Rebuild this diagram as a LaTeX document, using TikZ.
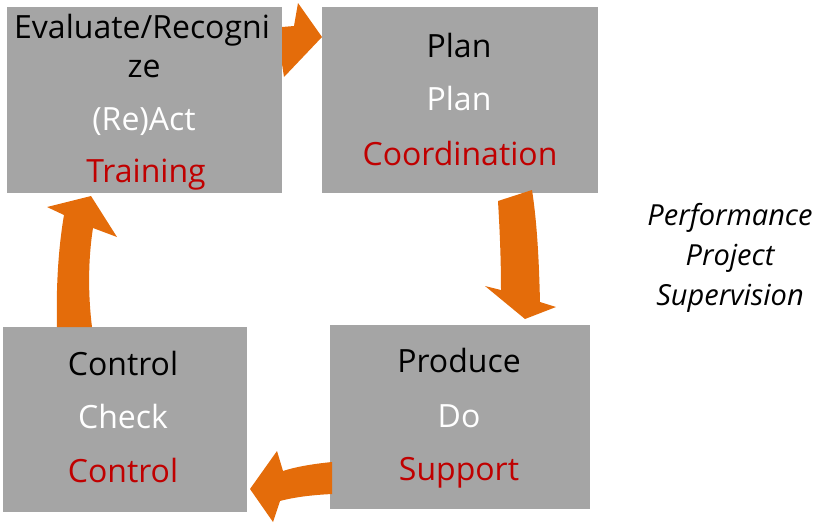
\documentclass[tikz,border=0pt]{standalone}
\usepackage{fontspec}
\setmainfont{Open Sans}
\definecolor{boxgray}{RGB}{165,165,165}
\definecolor{arroworange}{RGB}{228,108,10}
\definecolor{txtred}{RGB}{192,0,0}
\begin{document}
\begin{tikzpicture}[x=1pt,y=-1pt,
  box/.style={fill=boxgray,draw=none,inner sep=0,anchor=north west},
  txt/.style={anchor=base,inner sep=0,font=\fontsize{32}{38}\selectfont},
  lblack/.style={txt,text=black},
  lwhite/.style={txt,text=white},
  lred/.style={txt,text=txtred},
  note/.style={anchor=base,inner sep=0,font=\fontsize{29}{34}\selectfont\itshape,text=black},
  arr/.style={fill=arroworange,draw=none}]
\useasboundingbox (0,0) rectangle (815,525);
% boxes
\node[box,minimum width=275pt,minimum height=186pt] (b1) at (7,7) {};
\node[box,minimum width=276pt,minimum height=186pt] (b2) at (322,7) {};
\node[box,minimum width=244pt,minimum height=185pt] (b3) at (3,327) {};
\node[box,minimum width=260pt,minimum height=184pt] (b4) at (330,325) {};
% texts box 1
\node[lblack] (t1a) at (142,38) {Evaluate/Recogni};
\node[lblack] (t1b) at (144,77) {ze};
\node[lwhite] (t1c) at (144,130) {(Re)Act};
\node[lred]   (t1d) at (146,182) {Training};
% box 2
\node[lblack] (t2a) at (459,57) {Plan};
\node[lwhite] (t2b) at (459,110) {Plan};
\node[lred]   (t2c) at (460,165) {Coordination};
% box 3
\node[lblack] (t3a) at (123,375) {Control};
\node[lwhite] (t3b) at (123,428) {Check};
\node[lred]   (t3c) at (123,482) {Control};
% box 4
\node[lblack] (t4a) at (459,372) {Produce};
\node[lwhite] (t4b) at (459,427) {Do};
\node[lred]   (t4c) at (459,480) {Support};
% side note
\node[note] (n1) at (730,225) {Performance};
\node[note] (n2) at (730,265) {Project};
\node[note] (n3) at (730,305) {Supervision};
% arrows
\fill[arr] (282,27) -- (294,26) -- (298,3) -- (322,37) -- (284,77) -- (282,64) -- cycle;
\fill[arr] (498,201) .. controls (500,235) and (501,262) .. (501,290) -- (485,286)
  -- (525,319) -- (556,307) -- (540,302) .. controls (539,260) and (537,222) .. (532,190) -- cycle;
\fill[arr] (332,462) .. controls (312,464) and (295,467) .. (283,471) -- (277,451)
  -- (250,489) -- (273,522) -- (280,501) .. controls (295,497) and (312,495) .. (332,494) -- cycle;
\fill[arr] (57,327) .. controls (56,290) and (58,250) .. (64,215) -- (47,207)
  -- (91,196) -- (117,237) -- (93,228) .. controls (88,260) and (88,295) .. (92,327) -- cycle;
\end{tikzpicture}
\end{document}
